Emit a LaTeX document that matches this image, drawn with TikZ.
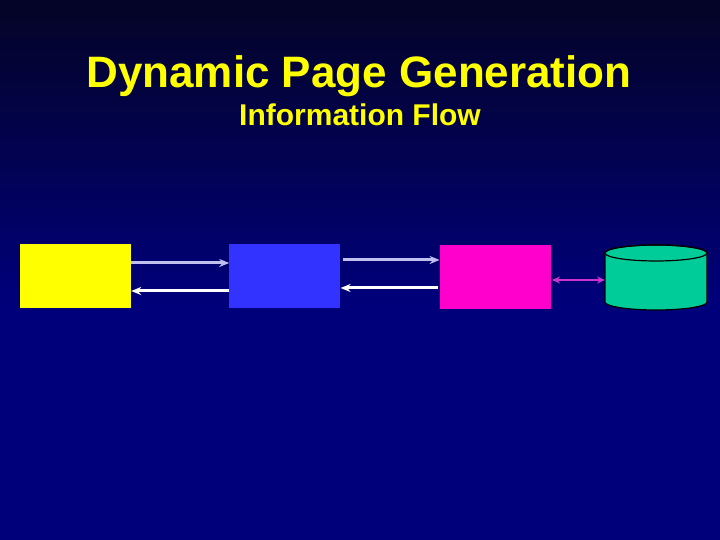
\documentclass[tikz,border=0pt]{standalone}
\usepackage{fontspec}
\setmainfont{Liberation Sans}
\usetikzlibrary{positioning, arrows.meta}

\definecolor{bgtop}{RGB}{4,4,38}
\definecolor{bgbot}{RGB}{0,0,122}
\definecolor{titleyellow}{RGB}{255,255,0}
\definecolor{clientyellow}{RGB}{255,255,0}
\definecolor{serverblue}{RGB}{51,51,255}
\definecolor{appmagenta}{RGB}{255,0,204}
\definecolor{dbgreen}{RGB}{0,204,153}
\definecolor{reqlilac}{RGB}{192,192,240}
\definecolor{linkpurple}{RGB}{204,51,204}

\tikzset{
	tier/.style={minimum width=111pt, minimum height=64pt, inner sep=0pt},
	request/.style={draw=reqlilac, line width=3pt, -{Stealth[length=10pt, width=8pt]}},
	reply/.style={draw=white, line width=3pt, -{Stealth[length=10pt, width=8pt]}},
}

\begin{document}
\begin{tikzpicture}[x=1pt, y=1pt]
	% background
	\fill[bgbot] (0,0) rectangle (720,540);
	\shade[top color=bgtop, bottom color=bgbot] (0,240) rectangle (720,540);
	\useasboundingbox (0,0) rectangle (720,540);
	
	\node[text=titleyellow, font=\bfseries\fontsize{44}{48}\selectfont, anchor=base] (title) at (359,452) {Dynamic Page Generation};
	\node[text=titleyellow, font=\bfseries\fontsize{30}{34}\selectfont, anchor=base] (subtitle) at (360,414) {Information Flow};
	
	\node[tier, fill=clientyellow] (client) at (75.5,264) {};
	\node[tier, fill=serverblue, right=98pt of client] (server) {};
	\node[tier, fill=appmagenta, right=99pt of server, yshift=-1.5pt] (app) {};
	
	% database drum
	\coordinate[right=54pt of app.east] (db);
	\filldraw[fill=dbgreen, draw=black, line width=1.2pt] ([yshift=24.5pt]db) -- ([yshift=-24.5pt]db)
		arc[start angle=180, end angle=360, x radius=51, y radius=8] -- ++(0,49)
		arc[start angle=0, end angle=180, x radius=51, y radius=8] -- cycle;
	\draw[black, line width=1.2pt] ([xshift=51pt, yshift=24.5pt]db) ellipse[x radius=51, y radius=8];
	
	\draw[request] ([yshift=13pt]client.east) -- ([yshift=13pt]server.west);
	\draw[reply] ([yshift=-15pt]server.west) -- ([yshift=-15pt]client.east);
	\draw[request] ([xshift=2pt, yshift=16pt]server.east) -- ([yshift=16pt]server.east -| app.west);
	\draw[reply] ([xshift=-2pt, yshift=-12pt]server.east -| app.west) -- ([yshift=-12pt]server.east);
	\draw[draw=linkpurple, line width=2.5pt, {Stealth[length=8pt, width=7pt]}-{Stealth[length=8pt, width=7pt]}]
		([xshift=1pt, yshift=-2.5pt]app.east) -- ([yshift=-2.5pt]db);
\end{tikzpicture}
\end{document}
